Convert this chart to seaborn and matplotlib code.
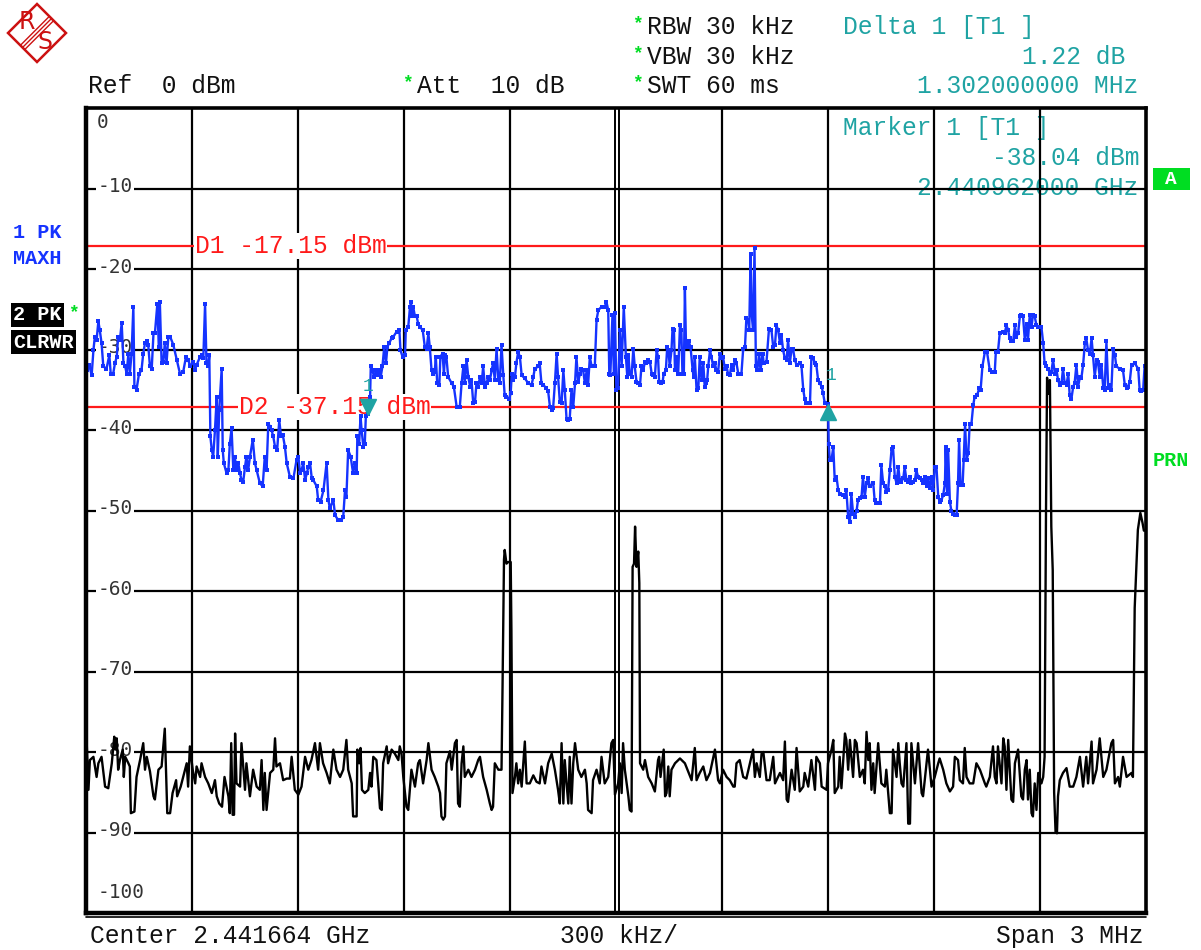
import pandas as pd
import seaborn as sns
import matplotlib.pyplot as plt
from matplotlib.patches import Polygon, Rectangle
from matplotlib.transforms import offset_copy

# Trace 1 (PK, MAXH, blue): offset from centre frequency in kHz, level in dBm
maxh_khz = [
    -1498, -1491, -1484, -1479, -1475, -1470, -1465, -1461, -1456, -1451, -1442, -1434, -1430, -1423,
    -1418, -1413, -1409, -1404, -1399, -1394, -1389, -1385, -1380, -1376, -1371, -1366, -1363, -1357,
    -1350, -1343, -1338, -1333, -1328, -1324, -1319, -1314, -1309, -1305, -1298, -1294, -1291, -1286,
    -1281, -1277, -1272, -1267, -1262, -1253, -1243, -1234, -1225, -1217, -1210, -1206, -1196, -1192,
    -1187, -1177, -1172, -1168, -1163, -1159, -1154, -1151, -1148, -1144, -1140, -1135, -1130, -1127,
    -1123, -1116, -1113, -1110, -1102, -1097, -1093, -1088, -1083, -1079, -1074, -1069, -1064, -1060,
    -1055, -1050, -1046, -1041, -1036, -1028, -1022, -1017, -1008, -1000, -994, -989, -984, -979,
    -975, -970, -965, -959, -953, -948, -943, -937, -932, -923, -913, -904, -899, -894, -890, -885,
    -880, -875, -871, -866, -861, -857, -847, -843, -836, -828, -819, -814, -810, -800, -795, -786,
    -777, -772, -767, -763, -758, -751, -744, -739, -734, -732, -727, -723, -720, -715, -711, -708,
    -702, -696, -694, -689, -685, -679, -676, -670, -666, -661, -656, -651, -647, -642, -635, -630,
    -621, -613, -610, -604, -597, -595, -588, -583, -580, -578, -574, -569, -564, -560, -555, -547,
    -541, -536, -531, -527, -522, -517, -513, -510, -506, -500, -497, -491, -487, -484, -480, -475,
    -465, -459, -451, -442, -437, -432, -428, -423, -418, -413, -409, -404, -399, -395, -390, -385,
    -380, -376, -371, -366, -362, -357, -352, -348, -343, -338, -333, -329, -324, -319, -315, -310,
    -302, -298, -295, -291, -286, -282, -277, -272, -267, -258, -248, -239, -234, -230, -220, -216,
    -211, -206, -197, -192, -187, -182, -178, -173, -168, -164, -159, -154, -149, -145, -140, -135,
    -131, -126, -121, -116, -112, -107, -102, -98, -93, -88, -83, -79, -74, -69, -60, -55,
    -50, -41, -32, -27, -22, -19, -16, -10, -6, -3, 1, 6, 11, 16, 22, 28,
    32, 35, 39, 44, 49, 53, 58, 63, 68, 72, 77, 82, 86, 91, 96, 101,
    105, 110, 115, 119, 122, 126, 132, 135, 141, 145, 149, 152, 157, 160, 164, 167,
    171, 176, 181, 185, 188, 192, 195, 198, 201, 206, 211, 217, 220, 223, 228, 233,
    237, 242, 247, 251, 254, 258, 261, 266, 270, 275, 280, 284, 289, 294, 299, 303,
    308, 313, 317, 322, 327, 332, 336, 341, 346, 355, 360, 365, 369, 374, 377, 381,
    384, 388, 392, 396, 400, 405, 409, 415, 418, 426, 433, 440, 445, 450, 454, 459,
    464, 468, 473, 478, 483, 487, 492, 497, 501, 506, 511, 520, 525, 530, 534, 539,
    549, 553, 558, 563, 567, 572, 577, 582, 586, 591, 600, 602, 605, 610, 615, 619,
    624, 629, 633, 643, 648, 652, 657, 662, 666, 671, 676, 681, 685, 690, 695, 699,
    704, 709, 714, 718, 728, 732, 737, 747, 751, 756, 761, 765, 770, 775, 780, 784,
    789, 794, 799, 803, 808, 813, 817, 822, 827, 832, 836, 841, 846, 850, 855, 860,
    865, 869, 874, 879, 883, 888, 893, 898, 902, 907, 912, 916, 921, 926, 931, 933,
    937, 940, 945, 949, 954, 959, 964, 968, 971, 975, 981, 984, 988, 992, 997, 1001,
    1006, 1011, 1015, 1022, 1028, 1032, 1037, 1044, 1050, 1058, 1065, 1072, 1075, 1081, 1086, 1094,
    1100, 1105, 1110, 1114, 1119, 1124, 1129, 1133, 1138, 1143, 1147, 1152, 1157, 1162, 1166, 1171,
    1176, 1180, 1185, 1190, 1195, 1204, 1209, 1213, 1218, 1223, 1228, 1232, 1237, 1242, 1247, 1251,
    1256, 1261, 1265, 1270, 1275, 1280, 1284, 1289, 1294, 1298, 1303, 1308, 1313, 1317, 1322, 1327,
    1331, 1336, 1341, 1346, 1350, 1355, 1360, 1364, 1369, 1374, 1379, 1383, 1388, 1393, 1397, 1402,
    1407, 1412, 1416, 1426, 1435, 1440, 1445, 1449, 1454, 1459, 1468, 1478, 1482, 1487, 1492, 1496,
    1500,
]
maxh_dbm = [
    -32.6, -31.9, -33.2, -30.1, -28.4, -28.8, -26.5, -27.6, -29.2, -32.1, -32.4, -30.7, -33.0, -33.0,
    -31.7, -30.9, -28.4, -28.8, -26.7, -31.7, -32.1, -33.0, -30.5, -33.0, -30.5, -24.7, -34.6, -35.0,
    -33.0, -32.6, -30.5, -29.2, -29.0, -29.4, -32.1, -32.4, -28.0, -28.0, -24.3, -29.7, -24.1, -31.7,
    -31.5, -29.2, -31.7, -28.4, -28.4, -29.4, -31.3, -33.0, -32.8, -30.9, -31.3, -32.1, -31.5, -32.6,
    -31.9, -30.9, -30.7, -31.1, -24.3, -31.7, -32.1, -30.7, -40.8, -42.5, -43.3, -40.0, -35.9, -43.3,
    -37.5, -32.4, -42.5, -44.1, -45.4, -45.0, -41.7, -39.8, -45.0, -43.3, -45.0, -44.1, -45.4, -46.2,
    -46.4, -44.6, -43.3, -45.0, -43.3, -41.2, -44.1, -45.0, -46.6, -47.0, -43.3, -45.0, -39.2, -39.6,
    -40.0, -40.8, -42.1, -42.5, -38.8, -40.8, -40.6, -42.1, -44.1, -45.8, -46.0, -43.7, -43.3, -45.4, -45.0, -44.1,
    -46.2, -45.4, -44.6, -44.1, -46.0, -46.2, -47.0, -48.7, -48.9, -47.5, -44.1, -48.7, -49.7, -48.7, -50.6, -51.2,
    -51.2, -50.8, -47.5, -48.3, -42.5, -43.3, -45.4, -44.1, -45.4, -40.8, -41.7, -38.3, -40.0, -42.1, -41.7, -38.3,
    -38.0, -35.9, -32.1, -32.6, -33.4, -32.6, -33.2, -32.6, -33.4, -32.1, -29.7, -31.7, -29.7, -29.2, -28.6, -28.4,
    -27.8, -27.6, -30.1, -30.9, -30.7, -27.6, -27.2, -24.7, -24.1, -25.9, -24.7, -25.9, -25.9, -26.8, -27.2, -27.6,
    -29.7, -29.9, -28.0, -29.7, -32.6, -33.0, -32.8, -30.9, -34.2, -34.4, -30.9, -30.5, -33.0, -30.7, -30.9, -33.4,
    -34.2, -34.6, -37.1, -37.1, -34.2, -32.1, -34.2, -31.3, -33.4, -34.6, -33.8, -36.7, -36.5, -34.2, -34.6, -33.4,
    -34.2, -32.1, -34.6, -34.2, -33.4, -33.8, -32.6, -31.7, -33.8, -29.9, -33.8, -34.2, -29.4, -33.2, -35.7, -35.9,
    -36.1, -35.4, -33.0, -33.8, -33.4, -31.7, -30.3, -30.9, -33.2, -33.6, -34.2, -34.4, -33.4, -32.4, -32.1, -31.7,
    -34.2, -34.4, -34.8, -35.2, -37.1, -37.5, -37.3, -34.2, -30.5, -33.4, -36.5, -36.7, -32.6, -35.0, -38.6, -38.8,
    -38.6, -35.0, -37.1, -34.2, -30.9, -34.0, -33.0, -32.4, -32.6, -34.2, -32.6, -34.4, -30.9, -32.1, -32.1, -26.3,
    -25.1, -24.7, -24.7, -24.1, -25.1, -33.0, -33.2, -25.7, -33.0, -25.5, -35.0, -34.8, -27.6, -32.0, -24.7, -30.9,
    -33.4, -30.7, -33.0, -33.4, -29.9, -32.1, -34.0, -34.2, -34.4, -32.1, -32.6, -31.5, -31.7, -31.3, -31.5, -33.0,
    -33.2, -33.4, -30.1, -30.9, -34.0, -34.2, -34.0, -33.0, -32.6, -29.7, -30.3, -32.1, -30.1, -27.4, -27.6, -32.6,
    -30.9, -33.0, -27.0, -27.6, -33.0, -33.0, -22.4, -29.2, -29.7, -29.0, -29.7, -32.6, -33.4, -30.9, -35.0, -34.8,
    -30.9, -33.8, -31.7, -34.6, -34.2, -33.8, -32.1, -30.1, -30.9, -32.1, -31.7, -32.6, -32.8, -30.5, -31.1, -30.9,
    -32.4, -32.1, -33.0, -33.2, -31.9, -32.6, -31.3, -31.7, -33.0, -33.0, -29.9, -29.7, -26.1, -26.3, -27.6, -18.1,
    -25.7, -27.6, -17.4, -32.1, -32.6, -30.5, -32.6, -30.5, -31.7, -31.5, -27.4, -27.6, -29.7, -29.4, -27.0, -27.6,
    -29.2, -28.2, -30.1, -31.1, -31.3, -28.8, -31.7, -29.9, -29.9, -31.3, -31.9, -31.7, -32.1, -35.0, -36.1, -36.7,
    -36.7, -30.9, -31.1, -31.7, -31.9, -33.8, -34.2, -34.6, -35.4, -36.7, -36.8, -41.7, -43.7, -43.7, -42.1, -46.2,
    -45.8, -47.5, -47.9, -48.1, -48.3, -47.5, -50.8, -51.4, -47.9, -50.4, -50.8, -50.0, -48.7, -48.5, -48.3, -45.8,
    -48.3, -46.6, -46.0, -47.0, -46.6, -48.7, -49.1, -49.1, -44.4, -46.6, -47.0, -47.7, -47.5, -45.0, -42.3, -42.1,
    -45.8, -46.6, -44.6, -46.2, -46.4, -46.0, -44.6, -46.2, -46.4, -45.8, -46.6, -46.4, -46.2, -45.0, -45.8, -46.0,
    -46.2, -46.6, -45.8, -47.0, -46.0, -47.2, -45.8, -47.5, -44.6, -44.6, -48.3, -48.9, -48.7, -48.1, -46.6, -42.1,
    -47.9, -42.5, -48.9, -50.0, -50.4, -50.6, -50.6, -46.6, -41.2, -46.8, -46.8, -43.7, -39.2, -43.7, -42.9, -39.2,
    -39.2, -36.9, -35.9, -35.7, -34.8, -35.0, -32.1, -30.3, -30.3, -32.6, -32.8, -32.8, -30.3, -30.3, -28.0, -27.8,
    -28.0, -27.0, -27.6, -28.6, -29.0, -29.0, -27.0, -28.4, -28.0, -25.9, -25.7, -25.9, -28.8, -26.8, -28.8, -25.7,
    -27.2, -25.7, -25.9, -27.0, -27.2, -27.2, -29.2, -31.7, -32.1, -32.4, -33.0, -32.8, -31.3, -33.0, -32.6, -33.8,
    -34.4, -34.2, -32.4, -34.2, -34.4, -33.0, -35.7, -36.1, -34.6, -34.2, -31.9, -34.6, -33.4, -33.6, -31.9, -29.2,
    -28.6, -30.1, -30.5, -28.6, -30.7, -33.4, -31.3, -31.5, -33.4, -31.9, -34.8, -35.0, -29.0, -34.8, -34.4, -35.0,
    -29.9, -30.7, -32.1, -32.4, -32.6, -34.4, -34.8, -34.6, -34.0, -31.9, -31.7, -32.4, -35.0, -35.2, -35.0, -32.1,
    -32.4,
]

# Trace 2 (PK, CLRWR, black)
clrwr_khz = [
    -1498, -1493, -1489, -1479, -1470, -1465, -1456, -1446, -1437, -1427, -1420, -1417, -1413, -1409,
    -1404, -1396, -1393, -1389, -1380, -1376, -1373, -1363, -1357, -1347, -1338, -1333, -1328, -1319,
    -1309, -1305, -1295, -1286, -1277, -1270, -1262, -1255, -1245, -1242, -1232, -1225, -1215, -1211,
    -1206, -1198, -1191, -1187, -1177, -1173, -1163, -1154, -1144, -1135, -1130, -1123, -1115, -1108,
    -1097, -1093, -1089, -1085, -1081, -1078, -1074, -1064, -1060, -1050, -1046, -1036, -1027, -1017,
    -1008, -1003, -998, -994, -989, -979, -970, -965, -961, -951, -942, -932, -923, -918, -909, -899,
    -890, -880, -871, -862, -852, -843, -838, -829, -819, -810, -800, -791, -781, -772, -763, -758,
    -748, -744, -734, -732, -727, -723, -719, -711, -701, -696, -692, -687, -678, -673, -668, -663,
    -659, -649, -645, -635, -626, -616, -612, -607, -602, -593, -588, -579, -569, -560, -555, -546,
    -536, -531, -522, -513, -503, -498, -494, -489, -484, -480, -470, -465, -456, -451, -447, -442,
    -437, -432, -428, -418, -409, -399, -390, -385, -376, -366, -357, -352, -348, -343, -333, -324,
    -321, -317, -315, -310, -305, -298, -296, -293, -286, -282, -277, -272, -267, -258, -253, -244,
    -234, -225, -216, -211, -201, -192, -182, -173, -164, -159, -154, -149, -145, -140, -135, -131,
    -126, -121, -116, -107, -98, -88, -83, -79, -69, -65, -55, -46, -41, -32, -22, -13,
    -8, -3, 6, 11, 16, 20, 25, 35, 39, 44, 47, 51, 54, 58, 63, 66,
    68, 77, 82, 91, 101, 110, 119, 122, 126, 135, 139, 143, 148, 152, 157, 167,
    181, 195, 204, 214, 223, 228, 237, 247, 256, 266, 280, 289, 294, 303, 313, 322,
    332, 336, 341, 350, 360, 369, 379, 388, 393, 398, 407, 412, 417, 426, 435, 445,
    450, 464, 473, 478, 483, 487, 497, 506, 511, 520, 530, 534, 544, 553, 563, 567,
    577, 582, 596, 600, 610, 615, 619, 629, 633, 638, 648, 652, 657, 662, 671, 676,
    681, 690, 699, 704, 709, 714, 718, 723, 728, 732, 742, 751, 761, 765, 775, 780,
    784, 789, 794, 799, 803, 808, 813, 822, 827, 832, 836, 846, 855, 865, 869, 879,
    883, 893, 902, 912, 916, 926, 935, 945, 954, 959, 968, 973, 982, 987, 992, 1001,
    1011, 1020, 1030, 1044, 1048, 1058, 1067, 1072, 1077, 1081, 1091, 1096, 1100, 1105, 1110, 1119,
    1124, 1129, 1138, 1147, 1152, 1157, 1162, 1166, 1171, 1176, 1180, 1185, 1190, 1195, 1204, 1209,
    1213, 1217, 1220, 1224, 1228, 1232, 1236, 1240, 1244, 1248, 1251, 1256, 1265, 1275, 1284, 1294,
    1303, 1313, 1322, 1331, 1336, 1346, 1350, 1360, 1369, 1379, 1388, 1402, 1407, 1412, 1421, 1426,
    1435, 1445, 1459, 1463, 1468, 1477, 1484, 1490, 1494, 1499,
]
clrwr_dbm = [
    -78.9, -84.7, -81.0, -80.6, -83.1, -81.4, -80.6, -84.3, -84.5, -81.4, -78.1, -79.7, -78.3, -82.2,
    -81.0, -79.7, -83.1, -80.6, -81.4, -81.8, -87.6, -87.4, -83.1, -81.0, -78.9, -82.2, -80.6, -82.4,
    -85.5, -85.9, -82.2, -81.8, -77.1, -87.6, -87.6, -85.1, -83.5, -85.5, -84.3, -83.1, -81.4, -84.3,
    -79.3, -82.2, -83.9, -81.8, -83.1, -81.4, -83.1, -83.9, -85.1, -83.5, -85.5, -86.4, -86.8, -83.1,
    -85.5, -87.6, -78.9, -87.8, -87.8, -77.7, -83.9, -84.3, -78.9, -84.7, -81.4, -85.5, -82.2, -84.3,
    -84.7, -81.0, -87.2, -82.6, -87.2, -82.6, -82.2, -78.3, -81.8, -81.4, -83.5, -83.3, -83.3, -80.6, -84.7, -85.3,
    -84.3, -80.6, -82.2, -81.0, -78.9, -82.2, -78.9, -81.4, -82.6, -83.9, -79.7, -82.2, -83.1, -82.2, -78.5, -82.2,
    -83.9, -88.0, -88.0, -79.7, -81.4, -79.5, -84.7, -85.1, -84.7, -82.6, -84.3, -80.6, -81.0, -83.9, -87.0, -87.2,
    -81.4, -79.3, -81.4, -79.7, -80.2, -81.0, -79.3, -80.2, -83.1, -86.8, -87.2, -82.2, -84.3, -81.4, -81.0, -83.9,
    -81.0, -78.9, -82.2, -83.1, -84.3, -85.1, -88.0, -88.4, -88.0, -81.4, -79.9, -82.2, -78.9, -78.5, -86.4, -86.8,
    -81.4, -79.3, -83.1, -82.2, -83.1, -82.2, -81.0, -80.6, -83.1, -84.7, -86.4, -87.2, -86.8, -81.4, -82.2, -82.2,
    -71.5, -56.1, -54.9, -56.6, -56.4, -56.4, -64.8, -85.1, -83.1, -81.4, -83.9, -82.2, -84.3, -78.7, -83.9, -83.9,
    -82.9, -83.7, -83.9, -81.8, -83.9, -81.4, -80.2, -82.2, -84.7, -86.4, -78.9, -86.4, -81.0, -83.9, -86.4, -80.6,
    -86.4, -81.4, -78.9, -82.2, -83.1, -82.2, -83.9, -87.2, -87.6, -83.5, -82.2, -83.9, -80.6, -83.9, -83.1, -78.9,
    -78.5, -85.3, -83.9, -81.4, -85.1, -78.9, -82.2, -85.5, -87.2, -87.4, -57.0, -56.6, -52.0, -57.0, -55.1, -59.0,
    -81.4, -82.2, -81.0, -83.1, -83.9, -84.9, -81.0, -80.6, -83.1, -79.7, -85.5, -85.1, -81.8, -85.5, -82.2, -81.4,
    -80.8, -81.4, -82.4, -83.5, -79.5, -83.5, -82.6, -81.8, -83.5, -82.6, -79.7, -83.5, -83.9, -82.2, -83.1, -83.5,
    -84.3, -84.3, -81.4, -81.0, -83.1, -83.3, -81.4, -79.7, -83.1, -81.4, -83.1, -80.2, -80.0, -83.5, -83.5, -80.6,
    -83.9, -82.6, -83.5, -78.7, -85.9, -86.2, -82.2, -84.7, -79.5, -84.9, -84.3, -82.6, -84.3, -81.0, -84.7, -80.6,
    -81.4, -84.3, -84.7, -81.4, -79.7, -78.5, -85.1, -84.3, -80.6, -84.5, -77.7, -78.5, -82.2, -78.5, -83.1, -78.5,
    -78.9, -83.1, -82.2, -83.9, -77.5, -81.0, -78.9, -84.7, -81.4, -85.1, -78.9, -83.9, -84.3, -82.2, -87.6, -87.6,
    -79.7, -81.4, -83.1, -78.9, -81.4, -83.9, -84.3, -78.9, -88.9, -88.9, -78.9, -83.9, -78.9, -85.1, -85.5, -81.4,
    -79.7, -84.3, -83.1, -81.4, -80.8, -82.2, -83.9, -84.9, -84.3, -80.6, -81.0, -83.5, -83.9, -79.5, -83.1, -83.9,
    -83.9, -81.4, -82.2, -83.9, -84.3, -83.1, -79.3, -83.1, -83.9, -79.3, -83.9, -78.3, -79.3, -84.7, -78.5, -85.9,
    -86.2, -81.4, -79.7, -85.5, -85.9, -82.2, -81.0, -85.9, -82.2, -87.6, -88.0, -83.9, -87.2, -82.6, -83.9, -83.1,
    -80.6, -50.0, -33.5, -35.5, -33.8, -52.0, -57.4, -85.0, -89.9, -90.1, -85.5, -83.5, -82.6, -82.0, -84.3, -84.3,
    -83.1, -80.6, -84.3, -80.6, -83.9, -78.7, -83.9, -82.2, -78.3, -83.1, -82.2, -78.9, -78.5, -83.9, -83.1, -84.3,
    -80.6, -83.1, -82.6, -83.1, -62.1, -52.4, -50.3, -51.5, -52.5, -52.5,
]

ref_levels = [0, -10, -20, -30, -40, -50, -60, -70, -80, -90, -100]
div_khz = [-1500, -1200, -900, -600, -300, 0, 300, 600, 900, 1200, 1500]
d1_level = -17.15
d2_level = -37.15
marker1 = (-702, -38.04)
delta1 = (600, -36.82)

W, H = 1201, 950
TEAL = '#1fa3a3'
GREEN = '#00dd22'
MONO = 'Liberation Mono'

sns.set_style('white')
plt.rcParams['font.family'] = ['DejaVu Sans']

fig = plt.figure(figsize=(W / 100, H / 100), dpi=100)
ax = fig.add_axes([86 / W, 1 - 913 / H, 1060 / W, 805 / H])

maxh = pd.DataFrame({'freq': maxh_khz, 'level': maxh_dbm})
clrwr = pd.DataFrame({'freq': clrwr_khz, 'level': clrwr_dbm})

# graticule
for lv in ref_levels[1:-1]:
    ax.axhline(lv, color='black', lw=1.6, zorder=1)
for f in div_khz[1:-1]:
    if f == 0:
        ax.axvline(-3, color='black', lw=1.4, zorder=1)
        ax.axvline(8, color='black', lw=1.4, zorder=1)
    else:
        ax.axvline(f, color='black', lw=1.6, zorder=1)

# display lines
ax.axhline(d1_level, color='#ff1a1a', lw=1.6, zorder=2)
ax.axhline(d2_level, color='#ff1a1a', lw=1.6, zorder=2)
ytr = ax.get_yaxis_transform()
ax.text((195 - 86) / 1060, d1_level, 'D1 -17.15 dBm', transform=ytr, color='#ff1a1a',
        family=MONO, fontsize=17.7, va='center', ha='left', zorder=3,
        bbox=dict(facecolor='white', edgecolor='none', pad=0.5))
ax.text((239 - 86) / 1060, d2_level, 'D2 -37.15 dBm', transform=ytr, color='#ff1a1a',
        family=MONO, fontsize=17.7, va='center', ha='left', zorder=3,
        bbox=dict(facecolor='white', edgecolor='none', pad=0.5))

# level labels inside the grid
for lv in ref_levels:
    if lv == 0:
        yy = lv - 1.8
    elif lv == -100:
        yy = lv + 2.6
    else:
        yy = lv + 0.2
    ax.text(0.0105, yy, str(lv), transform=ytr, color='#333333', family='DejaVu Sans Mono',
            fontsize=14, va='center', ha='left', zorder=3,
            bbox=dict(facecolor='white', edgecolor='none', pad=0.8))

# traces
sns.lineplot(data=clrwr, x='freq', y='level', color='black', lw=1.7, sort=False,
             estimator=None, ax=ax, zorder=5)
sns.lineplot(data=maxh, x='freq', y='level', color='#1533ff', lw=1.7, sort=False,
             estimator=None, ax=ax, zorder=6, marker='s', markersize=2.4,
             markeredgewidth=0)

# markers
up = offset_copy(ax.transData, fig=fig, y=5.5, units='points')
dn = offset_copy(ax.transData, fig=fig, y=-5.5, units='points')
ax.plot([marker1[0]], [marker1[1]], marker='v', ms=11, color=TEAL, transform=up, zorder=7)
ax.plot([delta1[0]], [delta1[1]], marker='^', ms=11, color=TEAL, transform=dn, zorder=7)
ax.annotate('1', marker1, xytext=(0, 20), textcoords='offset points', color=TEAL,
            family=MONO, fontsize=13, ha='center', va='center', zorder=7)
ax.annotate('1', delta1, xytext=(2, 21), textcoords='offset points', color=TEAL,
            family=MONO, fontsize=13, ha='center', va='center', zorder=7)

ax.set_xlim(div_khz[0], div_khz[-1])
ax.set_ylim(ref_levels[-1], ref_levels[0])
ax.set_xticks([])
ax.set_yticks([])
ax.set_xlabel('')
ax.set_ylabel('')
for side, sp in ax.spines.items():
    sp.set_visible(True)
    sp.set_color('black')
    sp.set_linewidth(2.6)
    sp.set_zorder(8)
ax.spines['left'].set_linewidth(3.2)
ax.spines['bottom'].set_linewidth(3.2)
# second rule under the bottom frame, as on the instrument screen
fig.add_artist(plt.Line2D([86 / W, 1146 / W], [1 - 917 / H, 1 - 917 / H], color='black', lw=1.2))


def ftext(x, y, s, **kw):
    kw.setdefault('family', MONO)
    kw.setdefault('fontsize', 17.7)
    kw.setdefault('va', 'center')
    return fig.text(x / W, 1 - y / H, s, **kw)


# marker readout inside the grid (under the graticule lines)
for x, y, s, ha in [(843, 128, 'Marker 1 [T1 ]', 'left'),
                    (1139, 158, '-38.04 dBm', 'right'),
                    (1138, 188, '2.440962000 GHz', 'right')]:
    ax.text(x / W, 1 - y / H, s, transform=fig.transFigure, color=TEAL, family=MONO,
            fontsize=17.7, ha=ha, va='center', zorder=0.5)

# header
for yy in (24, 54, 83):
    ftext(637, yy, '*', color=GREEN, fontsize=13, fontweight='bold', ha='center')
ftext(647, 27, 'RBW 30 kHz', color='#111111')
ftext(647, 57, 'VBW 30 kHz', color='#111111')
ftext(647, 86, 'SWT 60 ms', color='#111111')
ftext(843, 27, 'Delta 1 [T1 ]', color=TEAL)
ftext(1125, 57, '1.22 dB', color=TEAL, ha='right')
ftext(1138, 86, '1.302000000 MHz', color=TEAL, ha='right')
ftext(88, 86, 'Ref  0 dBm', color='#111111')
ftext(407, 83, '*', color=GREEN, fontsize=13, fontweight='bold', ha='center')
ftext(417, 86, 'Att  10 dB', color='#111111')

# footer
ftext(90, 936, 'Center 2.441664 GHz', color='#111111')
ftext(560, 936, '300 kHz/', color='#111111')
ftext(1144, 936, 'Span 3 MHz', color='#111111', ha='right')

# trace labels on the left
ftext(13, 233, '1 PK', color='#1533ff', fontsize=14.5, fontweight='bold')
ftext(13, 258, 'MAXH', color='#1533ff', fontsize=14.5, fontweight='bold')
ftext(13, 315, '2 PK', color='white', fontsize=14.5, fontweight='bold',
      bbox=dict(facecolor='black', edgecolor='none', pad=1.5))
ftext(74, 313, '*', color=GREEN, fontsize=13, fontweight='bold', ha='center')
ftext(13, 342, 'CLRWR', color='white', fontsize=14.5, fontweight='bold',
      bbox=dict(facecolor='black', edgecolor='none', pad=1.5))

# right side status
fig.patches.append(Rectangle((1153 / W, 1 - 190 / H), 37 / W, 22 / H, transform=fig.transFigure,
                             facecolor=GREEN, edgecolor='none'))
ftext(1171, 179, 'A', color='white', fontsize=14, fontweight='bold', ha='center')
ftext(1153, 461, 'PRN', color=GREEN, fontsize=14.5, fontweight='bold')

# R&S logo
lg = fig.add_axes([0, 1 - 66 / H, 70 / W, 66 / H])
lg.set_xlim(0, 70)
lg.set_ylim(66, 0)
lg.axis('off')
red = '#cc1111'
lg.add_patch(Polygon([(37, 4), (66, 33), (37, 62), (8, 33)], closed=True, fill=False,
                     edgecolor=red, lw=1.8))
for d in (-2.2, 0, 2.2):
    lg.plot([51 + d, 23 + d], [19 + d * 0.95, 47 + d * 0.95], color=red, lw=1.0)
lg.text(27, 22, 'R', color=red, fontsize=17, ha='center', va='center', family='DejaVu Sans')
lg.text(45, 42, 'S', color=red, fontsize=17, ha='center', va='center', family='DejaVu Sans')

fig.savefig('out.png', dpi=100, facecolor='white')
